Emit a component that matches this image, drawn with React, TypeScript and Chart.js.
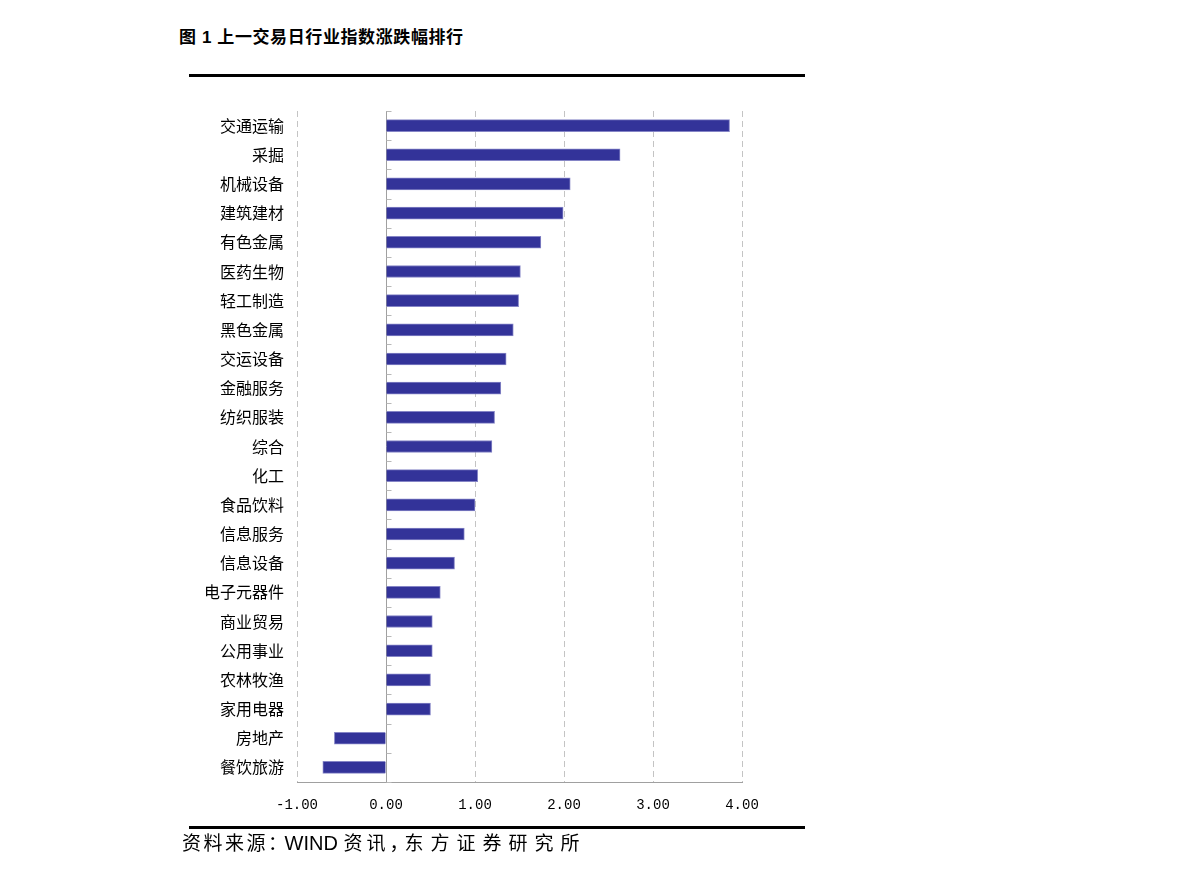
import React, { useEffect, useRef } from "react";
import { Chart, registerables } from "chart.js";

Chart.register(...registerables);

const categories = [
  "交通运输", "采掘", "机械设备", "建筑建材", "有色金属", "医药生物", "轻工制造", "黑色金属",
  "交运设备", "金融服务", "纺织服装", "综合", "化工", "食品饮料", "信息服务", "信息设备",
  "电子元器件", "商业贸易", "公用事业", "农林牧渔", "家用电器", "房地产", "餐饮旅游",
];
const changes = [
  3.86, 2.63, 2.07, 1.99, 1.74, 1.51, 1.49, 1.43,
  1.35, 1.29, 1.22, 1.19, 1.03, 1.00, 0.88, 0.77,
  0.61, 0.52, 0.52, 0.50, 0.50, -0.58, -0.71,
];
const xMin = -1;
const xMax = 4;
const xStep = 1;

const W = 1191;
const H = 876;

const zeroTicks = {
  id: "zeroTicks",
  afterDraw(chart: any) {
    const { ctx, scales } = chart;
    const x = scales.x;
    const y = scales.y;
    const x0 = Math.round(x.getPixelForValue(0)) + 0.5;
    const n = categories.length;
    ctx.save();
    ctx.strokeStyle = "#b8b8b8";
    ctx.lineWidth = 1;
    ctx.beginPath();
    for (let i = 0; i <= n; i++) {
      let py: number;
      if (i === 0) py = y.top;
      else if (i === n) py = y.bottom;
      else py = (y.getPixelForValue(i - 1) + y.getPixelForValue(i)) / 2;
      py = Math.round(py) + 0.5;
      ctx.moveTo(x0, py);
      ctx.lineTo(x0 + 5, py);
    }
    ctx.stroke();
    ctx.restore();
  },
};

export default function App() {
  const ref = useRef<HTMLCanvasElement>(null);
  useEffect(() => {
    if (!ref.current) return;
    const chart = new Chart(ref.current, {
      type: "bar",
      data: {
        labels: categories,
        datasets: [
          {
            data: changes,
            backgroundColor: "#333399",
            borderColor: "#8585c6",
            borderWidth: 1,
            barThickness: 12,
          },
        ],
      },
      plugins: [zeroTicks],
      options: {
        indexAxis: "y",
        responsive: false,
        animation: false,
        layout: { padding: { top: 111, right: W - 742, bottom: 0, left: 0 } },
        plugins: { legend: { display: false }, tooltip: { enabled: false } },
        scales: {
          x: {
            min: xMin,
            max: xMax,
            afterFit: (s: any) => {
              s.height = H - 782;
            },
            ticks: {
              stepSize: xStep,
              padding: 15,
              color: "#000",
              font: { family: "'Liberation Mono', monospace", size: 14 },
              callback: (v: any) => Number(v).toFixed(2),
            },
            grid: {
              drawTicks: false,
              color: (c: any) => (c.tick && c.tick.value === 0 ? "#a0a0a0" : "#c4c4c4"),
              lineWidth: 1,
            },
            border: {
              display: true,
              color: "#a0a0a0",
              width: 1,
              dash: (c: any) => (c.tick && c.tick.value === 0 ? [] : [6, 4]),
            },
          },
          y: {
            afterFit: (s: any) => {
              s.width = 297;
            },
            ticks: {
              padding: 13,
              color: "#000",
              font: { family: "'Noto Sans CJK SC', sans-serif", size: 16 },
              autoSkip: false,
            },
            grid: { display: false, drawTicks: false },
            border: { display: false },
          },
        },
      },
    });
    return () => chart.destroy();
  }, []);

  const cjk = "'Liberation Sans', 'Noto Sans CJK SC', sans-serif";
  return (
    <div style={{ position: "absolute", left: 0, top: 0, width: W, height: H, background: "#fff" }}>
      <div
        style={{
          position: "absolute",
          left: 179,
          top: 27,
          lineHeight: "22px",
          fontSize: 17,
          fontWeight: "bold",
          fontFamily: cjk,
          letterSpacing: "0.6px",
          whiteSpace: "nowrap",
          color: "#000",
        }}
      >
        图 1 上一交易日行业指数涨跌幅排行
      </div>
      <div style={{ position: "absolute", left: 189, top: 74, width: 616, height: 3, background: "#000" }} />
      <canvas ref={ref} width={W} height={H} style={{ position: "absolute", left: 0, top: 0, width: W, height: H }} />
      <div style={{ position: "absolute", left: 189, top: 826, width: 616, height: 3, background: "#000" }} />
      <div
        style={{
          position: "absolute",
          left: 182,
          top: 831,
          lineHeight: "24px",
          fontSize: 19,
          fontFamily: cjk,
          whiteSpace: "nowrap",
          color: "#000",
        }}
      >
        <span style={{ letterSpacing: "2.5px" }}>资料来源</span>
        <span style={{ letterSpacing: "-8px" }}>：</span>
        <span style={{ fontSize: 20 }}> WIND </span>
        <span style={{ letterSpacing: "4px" }}>资讯</span>
        <span style={{ letterSpacing: "-4px" }}>，</span>
        <span style={{ letterSpacing: "7px" }}>东方证券研究所</span>
      </div>
    </div>
  );
}
